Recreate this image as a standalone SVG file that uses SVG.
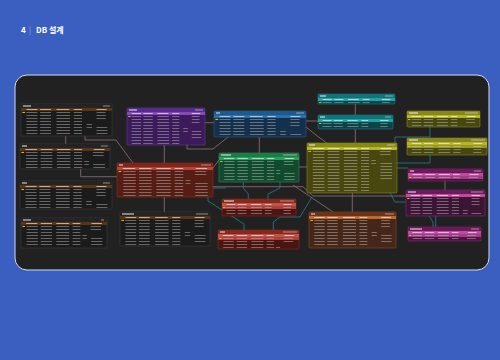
<svg xmlns="http://www.w3.org/2000/svg" xmlns:xlink="http://www.w3.org/1999/xlink" width="500" height="360" viewBox="0 0 500 360">
<style>
.b{stroke-width:0.6}
.tx{stroke:#d2d2d2;stroke-opacity:.42;stroke-dasharray:1 2;fill:none}
.hm{fill:#fff;fill-opacity:.6}
.tm{fill:#fff;fill-opacity:.75}
.tm2{fill:#fff;fill-opacity:.4}
.key{fill:#e2b02c}
.pk{stroke:#8f7382;stroke-width:.8;fill:none}
.tc{stroke:#2b7f8c;stroke-width:.8;fill:none}
.dk .b{fill:#1b1b1b;stroke:#3e3e3e}.dk .t{fill:#242424}.dk .h{fill:#5a3513}
.pu .b{fill:#3b1b5a;stroke:#6a3a9a}.pu .t{fill:#5a2a8a}.pu .h{fill:#8448b8}
.rd .b{fill:#561d15;stroke:#8a3020}.rd .t{fill:#7e261a}.rd .h{fill:#b0473a}
.bl .b{fill:#15304c;stroke:#2a5a8a}.bl .t{fill:#1e5a8e}.bl .h{fill:#2c6ea6}
.gr .b{fill:#114a2c;stroke:#2a8a55}.gr .t{fill:#1e7a46}.gr .h{fill:#2aa05e}
.tl .b{fill:#0d4247;stroke:#1a7a80}.tl .t{fill:#147278}.tl .h{fill:#1ea2a4}
.ol .b{fill:#47470f;stroke:#8a8a20}.ol .t{fill:#878716}.ol .h{fill:#b3b42e}
.br .b{fill:#45271a;stroke:#8a4a20}.br .t{fill:#6a3418}.br .h{fill:#c2682c}
.mg .b{fill:#4a1540;stroke:#8a2a7a}.mg .t{fill:#6b1a5e}.mg .h{fill:#c04a9e}
.rs .b{fill:#4a1510;stroke:#8a2a20}.rs .t{fill:#832a1e}.rs .h{fill:#c5524a}
.hl{fill-opacity:.75}
</style>
<defs>
<g id="colsA">
<rect class="key" x="1.5" y="3.9" width="3" height="1.1"/>
<rect class="hm" x="6" y="1" width="12" height="1"/>
<rect class="hm" x="21" y="1" width="12" height="1"/>
<rect class="hm" x="39" y="1" width="14" height="1"/>
<rect class="hm" x="58" y="1" width="9" height="1"/>
<rect class="hm" x="83" y="1" width="11" height="1"/>
<line class="tx" x1="12" y1="3.9" x2="12" y2="60" stroke-width="12"/>
<line class="tx" x1="27" y1="3.9" x2="27" y2="60" stroke-width="12"/>
<line class="tx" x1="46.5" y1="3.9" x2="46.5" y2="60" stroke-width="15"/>
<line class="tx" x1="62.5" y1="3.9" x2="62.5" y2="60" stroke-width="9"/>
<line class="tx" x1="75" y1="15.9" x2="75" y2="21" stroke-width="6"/>
<line class="tx" x1="88" y1="3.9" x2="88" y2="12" stroke-width="10"/>
<line class="tx" x1="89" y1="18.9" x2="89" y2="27" stroke-width="12"/>
</g>
<g id="colsB">
<rect class="key" x="1.5" y="3.9" width="3" height="1.1"/>
<rect class="hm" x="6" y="1" width="13" height="1"/>
<rect class="hm" x="23" y="1" width="13" height="1"/>
<rect class="hm" x="41" y="1" width="15" height="1"/>
<rect class="hm" x="60" y="1" width="9" height="1"/>
<rect class="hm" x="82" y="1" width="12" height="1"/>
<line class="tx" x1="13" y1="3.9" x2="13" y2="60" stroke-width="13"/>
<line class="tx" x1="29.5" y1="3.9" x2="29.5" y2="60" stroke-width="13"/>
<line class="tx" x1="48.5" y1="3.9" x2="48.5" y2="60" stroke-width="15"/>
<line class="tx" x1="64.5" y1="3.9" x2="64.5" y2="60" stroke-width="9"/>
<line class="tx" x1="74" y1="12.9" x2="74" y2="17" stroke-width="5"/>
<line class="tx" x1="87" y1="3.9" x2="87" y2="9" stroke-width="12"/>
<line class="tx" x1="88" y1="15.9" x2="88" y2="33" stroke-width="13"/>
</g>
</defs>
<rect width="500" height="360" fill="#3b5fc0"/>
<text x="21" y="33" font-family="'Noto Sans CJK KR','Noto Sans',sans-serif" font-size="8" font-weight="700" fill="#fff">4<tspan x="29" font-weight="300" fill-opacity=".6">|</tspan><tspan x="36">DB 설계</tspan></text>
<rect x="15" y="75" width="474" height="195" rx="12" fill="#212121" stroke="#d5dcee" stroke-width="1"/>

<g id="connectors">
<path class="pk" d="M65.7,136V144"/>
<path class="pk" d="M85,136V140H116L133,163"/>
<path class="pk" d="M80.7,169V176.7H117"/>
<path class="pk" d="M164.3,145V163"/>
<path class="pk" d="M205,122.7H214"/>
<path class="pk" d="M187,145V149H213L228,137"/>
<path class="pk" d="M259.3,137V153"/>
<path class="pk" d="M306,121H318"/>
<path class="pk" d="M306,127L316,135L326.7,143"/>
<path class="pk" d="M355.3,104V115"/>
<path class="pk" d="M355.3,129V143"/>
<path class="pk" d="M299,167H307"/>
<path class="pk" d="M352.3,193V212"/>
<path class="pk" d="M164.3,197V212"/>
<path class="pk" d="M213,168L219,160"/>
<path class="pk" d="M213,186.7H303L313,196H406"/>
<path class="pk" d="M445,181V190"/>
<path class="pk" d="M293,185L333,212"/>
<path class="tc" d="M243.3,182V188L248.3,194V199"/>
<path class="tc" d="M280,182V188L268,194V199"/>
<path class="tc" d="M208,197V201L244,224V230"/>
<path class="tc" d="M273.3,230V222L280,217H300L312,197"/>
<path class="tc" d="M397,168H408"/>
<path class="tc" d="M395,143V137H430V127"/>
<path class="tc" d="M397,163H430V155"/>
<path class="tc" d="M435.7,216V227"/>
<path class="tc" d="M390,193L395,202H420L433,222V227"/>
<path class="tc" d="M213,188H226"/>
</g>

<g id="t1" class="dk" transform="translate(21,104)"><rect class="b" width="91" height="32" rx="1"/><rect class="t" width="91" height="4"/><rect class="h" y="4" width="91" height="3"/><rect class="tm" x="2" y="1.4" width="8" height="1.2"/><rect class="tm2" x="82" y="1.4" width="7" height="1.2"/><svg x="0" y="4" width="91" height="27" viewBox="0 0 100 27" preserveAspectRatio="none"><use href="#colsA"/></svg></g>
<g id="t2" class="dk" transform="translate(20,144)"><rect class="b" width="90" height="25" rx="1"/><rect class="t" width="90" height="4"/><rect class="h" y="4" width="90" height="3"/><rect class="tm" x="2" y="1.4" width="5" height="1.2"/><rect class="tm2" x="81" y="1.4" width="7" height="1.2"/><svg x="0" y="4" width="90" height="20" viewBox="0 0 100 20" preserveAspectRatio="none"><use href="#colsB"/></svg></g>
<g id="t3" class="dk" transform="translate(20,181)"><rect class="b" width="92" height="28" rx="1"/><rect class="t" width="92" height="4"/><rect class="h" y="4" width="92" height="3"/><rect class="tm" x="2" y="1.4" width="5" height="1.2"/><rect class="tm2" x="83" y="1.4" width="7" height="1.2"/><svg x="0" y="4" width="92" height="23" viewBox="0 0 100 23" preserveAspectRatio="none"><use href="#colsA"/></svg></g>
<g id="t4" class="dk" transform="translate(21,218)"><rect class="b" width="86" height="30" rx="1"/><rect class="t" width="86" height="4"/><rect class="h" y="4" width="86" height="3"/><rect class="tm" x="2" y="1.4" width="8" height="1.2"/><rect class="tm2" x="80" y="1.4" width="3" height="1.2"/><svg x="0" y="4" width="86" height="25" viewBox="0 0 100 25" preserveAspectRatio="none"><use href="#colsB"/></svg></g>
<g id="t5" class="pu" transform="translate(127,108)"><rect class="b" width="78" height="37" rx="1"/><rect class="t" width="78" height="4"/><rect class="h" y="4" width="78" height="3"/><rect class="tm" x="2" y="1.4" width="8" height="1.2"/><rect class="tm2" x="68" y="1.4" width="8" height="1.2"/><svg x="0" y="4" width="78" height="32" viewBox="0 0 100 32" preserveAspectRatio="none"><use href="#colsA"/></svg></g>
<g id="t6" class="rd" transform="translate(117,163)"><rect class="b" width="96" height="34" rx="1"/><rect class="t" width="96" height="4"/><rect class="h" y="4" width="96" height="3"/><rect class="tm" x="2" y="1.4" width="4" height="1.2"/><rect class="tm2" x="84" y="1.4" width="10" height="1.2"/><svg x="0" y="4" width="96" height="29" viewBox="0 0 100 29" preserveAspectRatio="none"><use href="#colsB"/></svg></g>
<g id="t7" class="dk" transform="translate(120,212)"><rect class="b" width="90" height="34" rx="1"/><rect class="t" width="90" height="4"/><rect class="h" y="4" width="90" height="3"/><rect class="tm" x="2" y="1.4" width="12" height="1.2"/><rect class="tm2" x="76" y="1.4" width="12" height="1.2"/><svg x="0" y="4" width="90" height="29" viewBox="0 0 100 29" preserveAspectRatio="none"><use href="#colsA"/></svg></g>
<g id="t8" class="bl" transform="translate(214,111)"><rect class="b" width="92" height="26" rx="1"/><rect class="t" width="92" height="4"/><rect class="h" y="4" width="92" height="3"/><rect class="tm" x="2" y="1.4" width="4" height="1.2"/><rect class="tm2" x="82" y="1.4" width="8" height="1.2"/><svg x="0" y="4" width="92" height="21" viewBox="0 0 100 21" preserveAspectRatio="none"><use href="#colsA"/></svg></g>
<g id="t9" class="gr" transform="translate(219,153)"><rect class="b" width="80" height="29" rx="1"/><rect class="t" width="80" height="4"/><rect class="h" y="4" width="80" height="3"/><rect class="tm" x="2" y="1.4" width="10" height="1.2"/><rect class="tm2" x="64" y="1.4" width="14" height="1.2"/><svg x="0" y="4" width="80" height="24" viewBox="0 0 100 24" preserveAspectRatio="none"><use href="#colsB"/></svg></g>
<g id="t10" class="rs" transform="translate(222,199)"><rect class="b" width="74" height="17" rx="1"/><rect class="t" width="74" height="4"/><rect class="h" y="4" width="74" height="3"/><rect class="h hl" y="7" width="74" height="3"/><rect class="tm" x="2" y="1.4" width="10" height="1.2"/><rect class="tm2" x="58" y="1.4" width="14" height="1.2"/><svg x="0" y="4" width="74" height="12" viewBox="0 0 100 12" preserveAspectRatio="none"><use href="#colsA"/></svg></g>
<g id="t11" class="rs" transform="translate(218,230)"><rect class="b" width="81" height="19" rx="1"/><rect class="t" width="81" height="4"/><rect class="h" y="4" width="81" height="3"/><rect class="h hl" y="7" width="81" height="3"/><rect class="tm" x="2" y="1.4" width="5" height="1.2"/><rect class="tm2" x="65" y="1.4" width="14" height="1.2"/><svg x="0" y="4" width="81" height="14" viewBox="0 0 100 14" preserveAspectRatio="none"><use href="#colsB"/></svg></g>
<g id="t12" class="tl" transform="translate(318,94)"><rect class="b" width="77" height="10" rx="1"/><rect class="t" width="77" height="4"/><rect class="h" y="4" width="77" height="3"/><rect class="tm" x="2" y="1.4" width="6" height="1.2"/><rect class="tm2" x="67" y="1.4" width="8" height="1.2"/><svg x="0" y="4" width="77" height="5.5" viewBox="0 0 100 5.5" preserveAspectRatio="none"><use href="#colsA"/></svg></g>
<g id="t13" class="tl" transform="translate(318,115)"><rect class="b" width="75" height="14" rx="1"/><rect class="t" width="75" height="4"/><rect class="h" y="4" width="75" height="3"/><rect class="tm" x="2" y="1.4" width="5" height="1.2"/><rect class="tm2" x="67" y="1.4" width="6" height="1.2"/><svg x="0" y="4" width="75" height="9" viewBox="0 0 100 9" preserveAspectRatio="none"><use href="#colsA"/></svg></g>
<g id="t14" class="ol" transform="translate(307,143)"><rect class="b" width="90" height="50" rx="1"/><rect class="t" width="90" height="4"/><rect class="h" y="4" width="90" height="3"/><rect class="tm" x="2" y="1.4" width="6" height="1.2"/><rect class="tm2" x="80" y="1.4" width="8" height="1.2"/><svg x="0" y="4" width="90" height="45" viewBox="0 0 100 45" preserveAspectRatio="none"><use href="#colsB"/></svg></g>
<g id="t15" class="br" transform="translate(309,212)"><rect class="b" width="87" height="36" rx="1"/><rect class="t" width="87" height="4"/><rect class="h" y="4" width="87" height="3"/><rect class="tm" x="2" y="1.4" width="4" height="1.2"/><rect class="tm2" x="76" y="1.4" width="9" height="1.2"/><svg x="0" y="4" width="87" height="31" viewBox="0 0 100 31" preserveAspectRatio="none"><use href="#colsA"/></svg></g>
<g id="t16" class="ol" transform="translate(407,111)"><rect class="b" width="73" height="16" rx="1"/><rect class="t" width="73" height="4"/><rect class="h" y="4" width="73" height="3"/><rect class="tm" x="2" y="1.4" width="9" height="1.2"/><rect class="tm2" x="58" y="1.4" width="13" height="1.2"/><svg x="0" y="4" width="73" height="11" viewBox="0 0 100 11" preserveAspectRatio="none"><use href="#colsB"/></svg></g>
<g id="t17" class="ol" transform="translate(407,138)"><rect class="b" width="80" height="17" rx="1"/><rect class="t" width="80" height="4"/><rect class="h" y="4" width="80" height="3"/><rect class="h hl" y="7" width="80" height="3"/><rect class="tm" x="2" y="1.4" width="9" height="1.2"/><rect class="tm2" x="64" y="1.4" width="14" height="1.2"/><svg x="0" y="4" width="80" height="12" viewBox="0 0 100 12" preserveAspectRatio="none"><use href="#colsA"/></svg></g>
<g id="t18" class="mg" transform="translate(408,169)"><rect class="b" width="75" height="12" rx="1"/><rect class="t" width="75" height="4"/><rect class="h" y="4" width="75" height="3"/><rect class="h hl" y="7" width="75" height="3"/><rect class="tm" x="2" y="1.4" width="4" height="1.2"/><rect class="tm2" x="66" y="1.4" width="7" height="1.2"/><svg x="0" y="4" width="75" height="7" viewBox="0 0 100 7" preserveAspectRatio="none"><use href="#colsB"/></svg></g>
<g id="t19" class="mg" transform="translate(406,190)"><rect class="b" width="79" height="26" rx="1" style="fill:#3c1434"/><rect class="t" width="79" height="4"/><rect class="h" y="4" width="79" height="3"/><rect class="tm" x="2" y="1.4" width="8" height="1.2"/><rect class="tm2" x="65" y="1.4" width="12" height="1.2"/><svg x="0" y="4" width="79" height="21" viewBox="0 0 100 21" preserveAspectRatio="none"><use href="#colsA"/></svg></g>
<g id="t20" class="mg" transform="translate(408,227)"><rect class="b" width="73" height="14" rx="1"/><rect class="t" width="73" height="4"/><rect class="h" y="4" width="73" height="3"/><rect class="h hl" y="7" width="73" height="3"/><rect class="tm" x="2" y="1.4" width="12" height="1.2"/><rect class="tm2" x="63" y="1.4" width="8" height="1.2"/><svg x="0" y="4" width="73" height="9" viewBox="0 0 100 9" preserveAspectRatio="none"><use href="#colsB"/></svg></g>
</svg>
